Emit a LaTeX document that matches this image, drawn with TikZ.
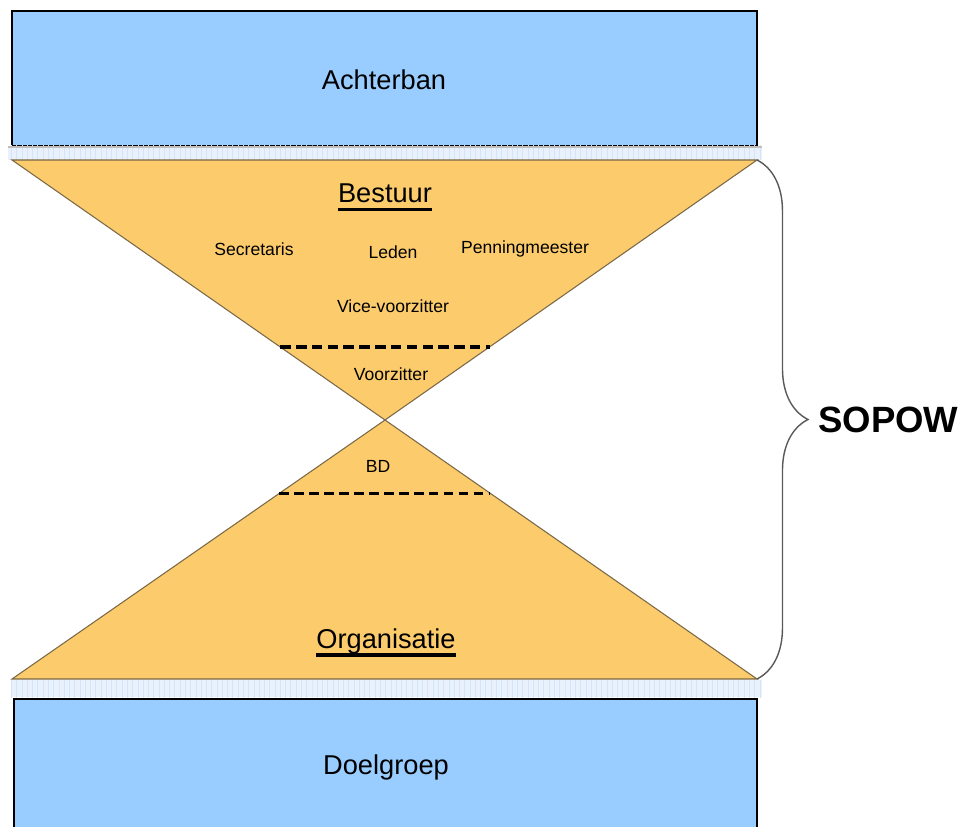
\documentclass[tikz,border=0pt]{standalone}
\usepackage{fontspec}
\setmainfont{Liberation Sans}
\usetikzlibrary{calc,patterns,decorations.pathreplacing}
\definecolor{boxblue}{RGB}{153,204,255}
\definecolor{stripblue}{RGB}{232,241,252}
\definecolor{hatchblue}{RGB}{212,229,249}
\definecolor{hourgold}{RGB}{252,204,108}
\definecolor{hourline}{RGB}{122,104,70}
\tikzset{
    box/.style = {
        draw=black,
        line width=1.2pt,
        fill=boxblue
    },
    strip/.style = {
        fill=stripblue,
        postaction={pattern=vertical lines, pattern color=hatchblue}
    },
    glass/.style = {
        draw=hourline,
        line width=0.6pt,
        fill=hourgold
    },
    cut/.style = {
        dash pattern=on 6pt off 3pt,
        black
    },
    title/.style = {
        inner sep=0pt,
        font=\fontsize{15.5}{18}\selectfont
    },
    role/.style = {
        inner sep=0pt,
        font=\fontsize{10}{12}\selectfont
    },
    underbar/.style = {
        line width=2pt,
        black
    },
    sopowbrace/.style = {
        draw=black!65,
        line width=0.8pt,
        decorate,
        decoration={brace, amplitude=29pt}
    }
}

\begin{document}
\begin{tikzpicture}[x=0.02cm, y=-0.02cm]
    \useasboundingbox (0,0) rectangle (959,827);

    % Corners of the hourglass
    \coordinate (tl) at (12,160);
    \coordinate (tr) at (757,160);
    \coordinate (apex) at (385,420);
    \coordinate (bl) at (12,679);
    \coordinate (br) at (757,679);

    % Draw blue boxes and strips
    \draw[box] (12,11) rectangle (757,146);
    \fill[strip] (8,146) rectangle (762,160);
    \draw[black!25, line width=0.8pt] (8,147) -- (762,147);
    \fill[strip] (11,680) rectangle (762,697);
    \begin{scope}
        \clip (0,0) rectangle (959,827);
        \draw[box] (14,699) rectangle (757,840);
    \end{scope}

    % Draw hourglass
    \draw[glass] (tl) -- (tr) -- (apex) -- cycle;
    \draw[glass] (apex) -- (br) -- (bl) -- cycle;

    \draw[cut, line width=2.2pt] ($(tl)!0.719!(apex)$) -- ($(tr)!0.719!(apex)$);
    \draw[cut, line width=1.6pt, dash pattern=on 5.5pt off 3pt] ($(apex)!0.283!(bl)$) -- ($(apex)!0.283!(br)$);

    % Draw brace
    \draw[sopowbrace] (tr) -- (br);

    % Draw labels
    \node[title] (achterban) at (384,80) {Achterban};
    \node[title] (doelgroep) at (386,767) {Doelgroep};
    \node[title] (bestuur) at (385,193) {Bestuur};
    \node[title] (organisatie) at (386,641) {Organisatie};
    \draw[underbar] ([yshift=-4pt]bestuur.base west) -- ([yshift=-4pt]bestuur.base east);
    \draw[underbar] ([yshift=-4pt]organisatie.base west) -- ([yshift=-4pt]organisatie.base east);

    \node[role] (secretaris) at (254,249) {Secretaris};
    \node[role] (leden) at (393,252) {Leden};
    \node[role] (penning) at (525,249) {Penningmeester};
    \node[role] (vice) at (393,306) {Vice-voorzitter};
    \node[role] (voorzitter) at (391,374) {Voorzitter};
    \node[role] (bd) at (378,466) {BD};

    \node[anchor=west, inner sep=0pt, font=\fontsize{20.8}{24}\selectfont\bfseries] (sopow) at (818,420) {SOPOW};
\end{tikzpicture}
\end{document}
